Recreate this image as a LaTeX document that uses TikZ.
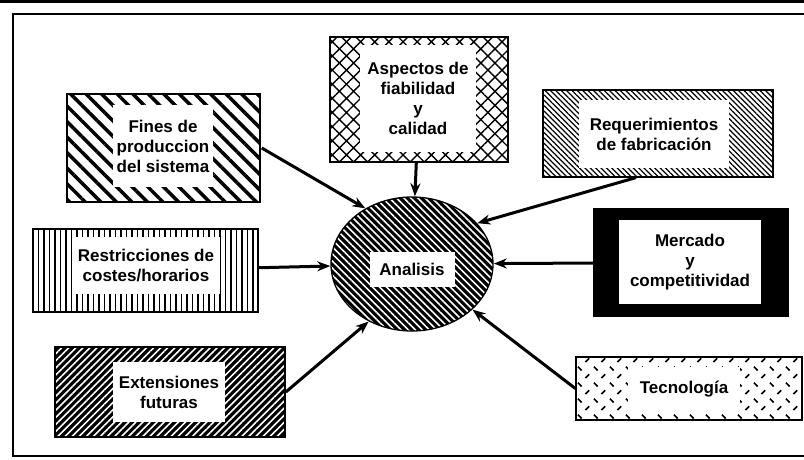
\documentclass[tikz,border=0pt]{standalone}
\usepackage{fontspec}
\setmainfont{Liberation Sans}
\usetikzlibrary{shapes.geometric,patterns.meta,arrows.meta}

\tikzdeclarepattern{
  name=trazos,
  type=uncolored,
  bounding box={(0pt,0pt) and (16pt,16pt)},
  tile size={(16pt,16pt)},
  code={
    \draw[line width=1.8pt] (2pt,14pt) -- (6pt,10pt);
    \draw[line width=1.8pt] (10pt,2pt) -- (14pt,6pt);
  }
}

\begin{document}
\begin{tikzpicture}[x=1pt,y=-1pt,>={Stealth[length=13pt,width=10pt]},
    every node/.style={font=\bfseries\fontsize{17}{20}\selectfont},
    caja/.style={draw,line width=1.3pt,inner sep=0pt},
    texto/.style={fill=white,inner sep=0pt,align=center},
    flecha/.style={->,line width=3pt}]
    \useasboundingbox (0,0) rectangle (804,459);
    \fill (0,0) rectangle (804,3);
    \draw[line width=1.3pt] (812,14) -- (13,14) -- (13,456) -- (812,456);

    \node[caja,minimum width=193pt,minimum height=108pt,pattern={Lines[angle=-45,distance=11pt,line width=3.5pt]}] (fines) at (163.5,148) {};
    \node[texto,minimum width=100pt,minimum height=82pt] (finesT) at (163,146) {Fines de\\produccion\\del sistema};

    \node[caja,minimum width=178pt,minimum height=125pt,pattern={Hatch[angle=45,distance=10pt,line width=1.4pt]}] (aspect) at (419,99.5) {};
    \node[texto,minimum width=116pt,minimum height=107pt] (aspectT) at (418,98.5) {Aspectos de\\fiabilidad\\y\\calidad};

    \node[caja,minimum width=230pt,minimum height=87pt,pattern={Lines[angle=-45,distance=3.8pt,line width=1.2pt]}] (requ) at (658,133.5) {};
    \node[texto,minimum width=150pt,minimum height=68pt] (requT) at (654,134) {Requerimientos\\de fabricación};

    \node[caja,minimum width=225pt,minimum height=83pt,pattern={Lines[angle=90,distance=5.5pt,line width=1.1pt]}] (restr) at (145.5,270.5) {};
    \node[texto,minimum width=148pt,minimum height=57pt] (restrT) at (146,265.5) {Restricciones de\\costes/horarios};

    \node[caja,ellipse,minimum width=162pt,minimum height=134pt,preaction={fill=black},pattern={Lines[angle=-45,distance=5pt,line width=1.6pt]},pattern color=white] (anal) at (412,264) {};
    \node[texto,minimum width=85pt,minimum height=35pt] (analT) at (412,269) {Analisis};

    \node[caja,fill=black,minimum width=194pt,minimum height=107pt] (merc) at (691,262.5) {};
    \node[texto,minimum width=142pt,minimum height=84pt] (mercT) at (690,262) {Mercado\\y\\competitividad};

    \node[caja,minimum width=230pt,minimum height=90pt,preaction={fill=black},pattern={Lines[angle=45,distance=5pt,line width=1.6pt]},pattern color=white] (ext) at (170,392) {};
    \node[texto,minimum width=112pt,minimum height=60pt] (extT) at (169,392) {Extensiones\\futuras};

    \node[caja,minimum width=226pt,minimum height=63pt,pattern=trazos] (tec) at (689,388.5) {};
    \node[texto,minimum width=112pt,minimum height=44pt] (tecT) at (684,389) {Tecnología};

    \draw[flecha] (fines.east) -- (anal.130);
    \draw[flecha] (aspect) -- (anal);
    \draw[flecha] ([xshift=-22pt]requ.south) -- (anal.32);
    \draw[flecha] (restr) -- (anal);
    \draw[flecha] (merc) -- (anal);
    \draw[flecha] (ext.east) -- (anal.233);
    \draw[flecha] (tec.west) -- (anal.323);
\end{tikzpicture}
\end{document}
